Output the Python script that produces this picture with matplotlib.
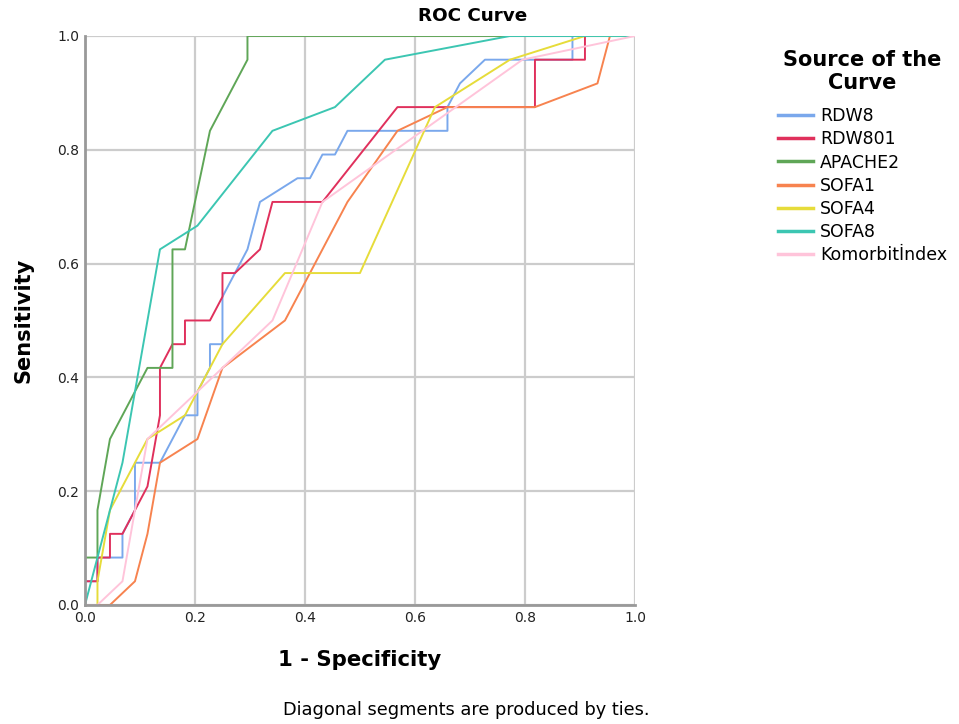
import numpy as np
import matplotlib
matplotlib.use("Agg")
import matplotlib.pyplot as plt

plt.rcParams['font.family'] = ['DejaVu Sans']

# counts: 44 negatives, 24 positives
n_neg = 44
n_pos = 24

rdw8_fp = [0, 0, 1, 1, 3, 3, 4, 4, 6, 8, 9, 9, 10, 10, 11, 11, 13, 14, 17, 18, 19, 20, 21, 29, 29, 30, 32, 39, 39, 44]
rdw8_tp = [0, 1, 1, 2, 2, 3, 4, 6, 6, 8, 8, 9, 10, 11, 11, 13, 15, 17, 18, 18, 19, 19, 20, 20, 21, 22, 23, 23, 24, 24]

rdw801_fp = [0, 0, 1, 1, 2, 2, 3, 5, 6, 6, 7, 8, 8, 10, 11, 11, 12, 14, 15, 19, 25, 36, 36, 40, 40, 44]
rdw801_tp = [0, 1, 1, 2, 2, 3, 3, 5, 8, 10, 11, 11, 12, 12, 13, 14, 14, 15, 17, 17, 21, 21, 23, 23, 24, 24]

apache2_fp = [0, 0, 1, 1, 2, 5, 7, 7, 8, 10, 13, 13, 44]
apache2_tp = [0, 2, 2, 4, 7, 10, 10, 15, 15, 20, 23, 24, 24]

sofa1_fp = [0, 2, 4, 5, 6, 9, 11, 16, 21, 25, 29, 36, 41, 42, 44]
sofa1_tp = [0, 0, 1, 3, 6, 7, 10, 12, 17, 20, 21, 21, 22, 24, 24]

sofa4_fp = [0, 1, 1, 2, 5, 8, 11, 16, 22, 28, 34, 40, 44]
sofa4_tp = [0, 0, 1, 4, 7, 8, 11, 14, 14, 21, 23, 24, 24]

sofa8_fp = [0, 3, 6, 9, 15, 20, 24, 34, 44]
sofa8_tp = [0, 6, 15, 16, 20, 21, 23, 24, 24]

komorbit_fp = [0, 1, 3, 5, 11, 15, 19, 35, 44]
komorbit_tp = [0, 0, 1, 7, 10, 12, 17, 23, 24]

names = ['RDW8', 'RDW801', 'APACHE2', 'SOFA1', 'SOFA4', 'SOFA8', 'Komorbitİndex']
fps = [rdw8_fp, rdw801_fp, apache2_fp, sofa1_fp, sofa4_fp, sofa8_fp, komorbit_fp]
tps = [rdw8_tp, rdw801_tp, apache2_tp, sofa1_tp, sofa4_tp, sofa8_tp, komorbit_tp]
colors = ['#7aa8ec', '#e0305c', '#5fa657', '#f7834f', '#e6dc3a', '#3cc6b2', '#ffc4da']

ticks = [0.0, 0.2, 0.4, 0.6, 0.8, 1.0]

fig = plt.figure(figsize=(9.59, 7.24), dpi=100)
ax = fig.add_axes([0.0886, 0.1644, 0.5735, 0.7859])

for name, fp, tp, c in zip(names, fps, tps, colors):
    ax.plot(np.array(fp) / n_neg, np.array(tp) / n_pos, color=c, lw=1.4, label=name)

ax.set_xlim(0, 1)
ax.set_ylim(0, 1)
ax.set_xticks(ticks)
ax.set_yticks(ticks)
ax.set_xticklabels([f'{t:.1f}' for t in ticks])
ax.set_yticklabels([f'{t:.1f}' for t in ticks])
ax.tick_params(length=0, labelsize=10, pad=4, colors='#222222')
ax.grid(True, color='#cccccc', lw=1.6)
ax.set_axisbelow(True)
for s in ['top', 'right']:
    ax.spines[s].set_visible(False)
for s in ['left', 'bottom']:
    ax.spines[s].set_color('#999999')
    ax.spines[s].set_linewidth(2)

fig.text(473 / 959, 1 - 16 / 724, 'ROC Curve', ha='center', va='center',
         fontsize=13.2, fontweight='bold')
ax.set_xlabel('1 - Specificity', fontsize=15.3, fontweight='bold', labelpad=18)
ax.set_ylabel('Sensitivity', fontsize=15, fontweight='bold', labelpad=17)

fig.text(466 / 959, 1 - 710 / 724, 'Diagonal segments are produced by ties.',
         ha='center', va='center', fontsize=12.8)

leg = ax.legend(loc='upper left', bbox_to_anchor=(766 / 959, 1 - 38 / 724),
                bbox_transform=fig.transFigure, frameon=False,
                title='Source of the\nCurve', alignment='center', fontsize=12.5,
                handlelength=2.0, handletextpad=0.4, labelspacing=0.3,
                borderpad=0.2)
leg.get_title().set_fontweight('bold')
leg.get_title().set_fontsize(15)
leg.get_title().set_multialignment('center')
leg.get_title().set_linespacing(1.15)
leg._legend_box.sep = 10.5
for line in leg.get_lines():
    line.set_linewidth(2.5)

fig.savefig('out.png', dpi=100)
